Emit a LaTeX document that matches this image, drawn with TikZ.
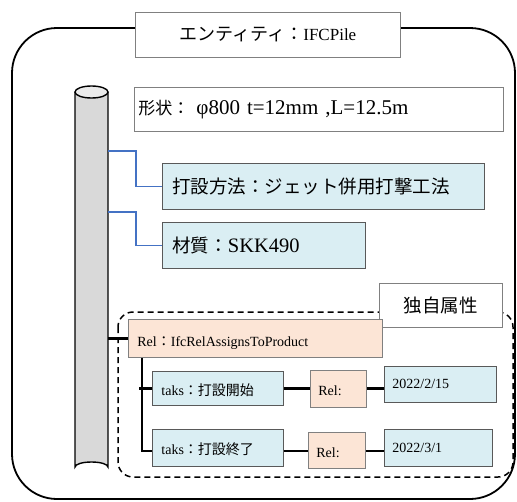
\documentclass[tikz,border=0pt]{standalone}
\usepackage{fontspec}
\setmainfont{Liberation Serif}
\newfontfamily\jp{Noto Sans CJK JP}
\definecolor{bluefill}{RGB}{218,238,243}
\definecolor{peachfill}{RGB}{252,229,214}
\definecolor{blueline}{RGB}{68,114,196}
\definecolor{pilegray}{RGB}{217,217,217}
\begin{document}
\begin{tikzpicture}[x=1pt,y=-1pt,
  basebox/.style={anchor=north west, inner ysep=0pt, line width=0.8pt},
  whitebox/.style={basebox, draw=black!50, fill=white},
  bluebox/.style={basebox, draw=black!65, fill=bluefill, align=left},
  peachbox/.style={basebox, draw=black!50, fill=peachfill, align=left},
  blueconn/.style={draw=blueline, line width=1.3pt},
  treeconn/.style={draw=black, line width=2.2pt},
  bigtext/.style={font=\fontsize{18.5}{20}\selectfont},
  smalltext/.style={font=\fontsize{14}{16}\selectfont},
  lowtext/.style={text height=17pt, text depth=3pt},
  lowertext/.style={text height=19pt, text depth=3pt}]
\useasboundingbox (0,0) rectangle (517,501);

% outer frame
\draw[line width=1.8pt, rounded corners=45pt] (12,28) rectangle (515,499);

% title
\node[whitebox, minimum width=265pt, minimum height=45pt, font=\fontsize{18}{20}\selectfont] (title) at (135,12) {{\jp エンティティ：}{\fontsize{17}{19}\selectfont IFCPile}};

% pile
\draw[line width=1.4pt, fill=pilegray] (75,92) -- (75,467)
  arc[start angle=180, end angle=360, x radius=16.5, y radius=5] -- (108,92);
\draw[line width=1.4pt, fill=black!8] (91.5,92) ellipse[x radius=16.5, y radius=6];
\node[inner sep=0pt, minimum width=33pt, minimum height=375pt, anchor=north west] (pile) at (75,92) {};

% shape box
\node[whitebox, minimum height=44pt, inner xsep=4pt, text width=361pt, align=left, font=\fontsize{21}{23}\selectfont] (shape) at (134,87) {{\jp\fontsize{17}{19}\selectfont 形状：} φ800 t=12mm ,L=12.5m};

% blue attribute boxes
\node[bluebox, minimum height=46pt, inner xsep=10pt, text width=302pt, bigtext] (method) at (162,163) {\jp 打設方法：ジェット併用打撃工法};
\node[bluebox, minimum height=46pt, inner xsep=10pt, text width=183pt, bigtext] (material) at (162,222) {{\jp 材質：}{\fontsize{20.5}{22}\selectfont SKK490}};

\coordinate (p1) at (108,151);
\coordinate (p2) at (108,212);
\draw[blueconn] (p1) -- ++(28,0) |- (method.west);
\draw[blueconn] (p2) -- ++(28,0) |- (material.west);

% dashed frame
\draw[line width=1.5pt, dash pattern=on 6pt off 4pt, rounded corners=15pt] (118,312) rectangle (513,477);

% unique attribute label
\node[whitebox, minimum width=123pt, minimum height=44pt, bigtext] (uniq) at (379,283) {\jp 独自属性};

% relation box
\node[peachbox, minimum height=38pt, inner xsep=9pt, text width=236pt, smalltext, lowertext] (rel) at (128,319) {Rel{\jp ：}IfcRelAssignsToProduct};
\draw[treeconn] (pile.east |- rel.west) -- (rel.west);

% task rows
\node[bluebox, minimum height=34pt, inner xsep=9pt, text width=113pt, smalltext, lowtext] (t1) at (152,371) {taks{\jp ：打設開始}};
\node[peachbox, minimum height=37pt, inner xsep=8pt, text width=40pt, smalltext, lowtext] (r1) at (310,370) {Rel:};
\node[bluebox, minimum height=36pt, inner xsep=8pt, text width=96pt, smalltext] (d1) at (384,366) {2022/2/15};

\node[bluebox, minimum height=37pt, inner xsep=9pt, text width=113pt, smalltext, lowtext] (t2) at (152,429) {taks{\jp ：打設終了}};
\node[peachbox, minimum height=36pt, inner xsep=8pt, text width=41pt, smalltext, lowtext] (r2) at (308,432) {Rel:};
\node[bluebox, minimum height=37pt, inner xsep=8pt, text width=92pt, smalltext] (d2) at (384,429) {2022/3/1};

% tree connectors
\coordinate (t2w) at ([yshift=-3pt]t2.west);
\coordinate (t2e) at ([yshift=-3pt]t2.east);
\draw[treeconn] ([xshift=14pt]rel.south west) |- (t2w);
\draw[treeconn] ([xshift=-13pt]t1.west) -- (t1.west);
\draw[treeconn] (t1.east) -- (r1.west |- t1.east);
\draw[treeconn] (r1.east |- t1.east) -- (d1.west |- t1.east);
\draw[treeconn] (t2e) -- (r2.west |- t2e);
\draw[treeconn] (r2.east |- t2e) -- (d2.west |- t2e);
\end{tikzpicture}
\end{document}
